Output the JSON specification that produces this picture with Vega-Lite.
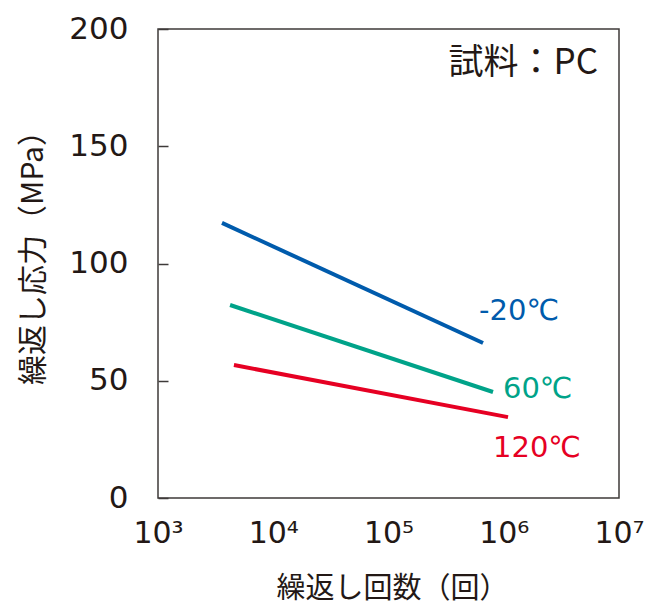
{
  "$schema": "https://vega.github.io/schema/vega-lite/v6.json",
  "width": 461,
  "height": 469,
  "autosize": "none",
  "padding": {"left": 158, "top": 29, "right": 42, "bottom": 114},
  "background": "white",
  "config": {
    "view": {"stroke": "#3e3a39", "strokeWidth": 1.5},
    "font": "DejaVu Sans"
  },
  "datasets": {
    "lines": [
      {"series": "-20℃", "N": 3590, "stress": 117.3},
      {"series": "-20℃", "N": 661000, "stress": 66.1},
      {"series": "60℃", "N": 4220, "stress": 82.3},
      {"series": "60℃", "N": 807000, "stress": 45.2},
      {"series": "120℃", "N": 4560, "stress": 56.7},
      {"series": "120℃", "N": 1089000, "stress": 34.5}
    ],
    "labels": [
      {"series": "-20℃", "text": "-20℃", "N": 610000, "stress": 79.7},
      {"series": "60℃", "text": "60℃", "N": 984000, "stress": 46.5},
      {"series": "120℃", "text": "120℃", "N": 807000, "stress": 21.5}
    ],
    "note": [
      {"text": "試料：PC", "N": 6580000, "stress": 185.5}
    ]
  },
  "layer": [
    {
      "data": {"name": "lines"},
      "mark": {"type": "line", "strokeWidth": 4, "strokeCap": "butt"},
      "encoding": {
        "x": {
          "field": "N", "type": "quantitative",
          "scale": {"type": "log", "domain": [1000, 10000000]},
          "axis": {
            "values": [1000, 10000, 100000, 1000000, 10000000],
            "labelExpr": "'10' + ['³','⁴','⁵','⁶','⁷'][round(log(datum.value)/LN10)-3]",
            "ticks": false,
            "grid": false,
            "domain": false,
            "labelFlush": false,
            "labelOverlap": false,
            "labelFont": "DejaVu Sans",
            "labelFontSize": 30,
            "labelColor": "#231815",
            "labelBaseline": "top",
            "labelPadding": 20,
            "title": "繰返し回数（回）",
            "titleFont": "Noto Sans CJK JP",
            "titleFontSize": 29,
            "titleFontWeight": "normal",
            "titleColor": "#231815",
            "titleX": 234,
            "titleY": 90,
            "titleAlign": "center",
            "titleBaseline": "middle"
          }
        },
        "y": {
          "field": "stress", "type": "quantitative",
          "scale": {"domain": [0, 200]},
          "axis": {
            "values": [0, 50, 100, 150, 200],
            "grid": false,
            "domain": false,
            "tickSize": -10,
            "tickColor": "#3e3a39",
            "tickWidth": 1.5,
            "labelFont": "DejaVu Sans",
            "labelFontSize": 31,
            "labelColor": "#231815",
            "labelPadding": 40,
            "labelFlush": false,
            "labelOverlap": false,
            "title": "繰返し応力（MPa）",
            "titleFont": "Noto Sans CJK JP",
            "titleFontSize": 30,
            "titleFontWeight": "normal",
            "titleColor": "#231815",
            "titleX": -125,
            "titleY": 221,
            "titleBaseline": "middle",
            "titleAlign": "center"
          }
        },
        "color": {
          "field": "series", "type": "nominal",
          "scale": {"domain": ["-20℃", "60℃", "120℃"], "range": ["#005bac", "#00a389", "#e60023"]},
          "legend": null
        }
      }
    },
    {
      "data": {"name": "labels"},
      "mark": {"type": "text", "align": "left", "baseline": "middle", "font": "DejaVu Sans", "fontSize": 29},
      "encoding": {
        "x": {"field": "N", "type": "quantitative"},
        "y": {"field": "stress", "type": "quantitative"},
        "text": {"field": "text"},
        "color": {"field": "series", "type": "nominal", "legend": null}
      }
    },
    {
      "data": {"name": "note"},
      "mark": {"type": "text", "align": "right", "baseline": "middle", "font": "Noto Sans CJK JP", "fontSize": 35, "color": "#231815"},
      "encoding": {
        "x": {"field": "N", "type": "quantitative"},
        "y": {"field": "stress", "type": "quantitative"},
        "text": {"field": "text"}
      }
    }
  ]
}
